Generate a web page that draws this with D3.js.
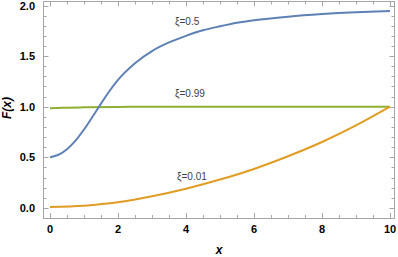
<!DOCTYPE html>
<html>
<head>
<meta charset="utf-8">
<script src="https://cdn.jsdelivr.net/npm/d3@7"></script>
<style>
  body { margin: 0; background: #fff; }
  text { font-family: "Liberation Sans", Arial, sans-serif; }
</style>
</head>
<body>
<svg id="chart" width="398" height="257"></svg>
<script>
// values
var blueX = [0, 0.25, 0.5, 0.75, 1, 1.25, 1.5, 1.75, 2, 2.5, 3, 3.5, 4, 4.5, 5, 5.5, 6, 7, 8, 9, 10]
var blueY = [0.5, 0.525, 0.58, 0.665, 0.775, 0.9, 1.03, 1.155, 1.265, 1.43, 1.55, 1.635, 1.70, 1.755, 1.795, 1.83, 1.855, 1.89, 1.915, 1.933, 1.945]

var greenX = [0, 0.5, 1, 2, 3, 4, 6, 8, 10]
var greenY = [0.985, 0.99, 0.994, 0.998, 1.0, 1.0, 1.0, 1.0, 1.0]

var orangeX = [0, 1, 2, 3, 4, 5, 6, 7, 8, 9, 10]
var orangeY = [0.01, 0.022, 0.055, 0.115, 0.19, 0.28, 0.385, 0.51, 0.651, 0.815, 1.0]

var seriesNames = ["\u03be=0.5", "\u03be=0.99", "\u03be=0.01"]
var colors = ["#5E81B5", "#8FB032", "#E19C24"]

var xTicks = [0, 2, 4, 6, 8, 10]
var yTicks = [0, 0.5, 1, 1.5, 2]

var svg = d3.select("svg#chart")

var x = d3.scaleLinear().domain([0, 10]).range([50, 390])
var y = d3.scaleLinear().domain([0, 2]).range([207.9, 5.5])

var frame = { left: 43, right: 394, top: 1, bottom: 218 }

// frame
svg.append("rect")
    .attr("x", frame.left + 0.5).attr("y", frame.top + 0.5)
    .attr("width", frame.right - frame.left).attr("height", frame.bottom - frame.top)
    .attr("fill", "none").attr("stroke", "#a6a6a6").attr("stroke-width", 1)

var tickColor = "#a6a6a6"
var ticks = svg.append("g").attr("stroke", tickColor).attr("stroke-width", 1)

// x ticks, bottom and top
d3.range(0, 10.01, 0.5).forEach(function(v) {
    let major = Math.abs(v % 2) < 1e-6
    let len = major ? 5 : 3
    let px = Math.round(x(v)) + 0.5
    ticks.append("line").attr("x1", px).attr("x2", px).attr("y1", frame.bottom).attr("y2", frame.bottom - len)
    ticks.append("line").attr("x1", px).attr("x2", px).attr("y1", frame.top + 0.5).attr("y2", frame.top + 0.5 + len)
})

// y ticks, left and right
d3.range(0, 2.001, 0.1).forEach(function(v) {
    let major = Math.abs((v * 10) % 5) < 1e-6
    let len = major ? 5 : 3
    let py = Math.round(y(v)) + 0.5
    ticks.append("line").attr("x1", frame.left + 0.5).attr("x2", frame.left + 0.5 + len).attr("y1", py).attr("y2", py)
    ticks.append("line").attr("x1", frame.right + 0.5).attr("x2", frame.right + 0.5 - len).attr("y1", py).attr("y2", py)
})

// tick labels
svg.append("g").selectAll("text").data(xTicks).enter().append("text")
    .attr("x", function(d) { return x(d) }).attr("y", 233)
    .attr("text-anchor", "middle")
    .style("font-size", "11px").style("font-weight", "bold")
    .text(function(d) { return d })

svg.append("g").selectAll("text").data(yTicks).enter().append("text")
    .attr("x", 35).attr("y", function(d) { return y(d) + 4 })
    .attr("text-anchor", "end")
    .style("font-size", "11px").style("font-weight", "bold")
    .text(function(d) { return d.toFixed(1) })

// axis labels
svg.append("text").attr("x", 219).attr("y", 254)
    .attr("text-anchor", "middle")
    .style("font-size", "12px").style("font-weight", "bold").style("font-style", "italic")
    .text("x")

svg.append("text")
    .attr("transform", "translate(11,108) rotate(-90)")
    .attr("text-anchor", "middle")
    .style("font-size", "12px").style("font-weight", "bold").style("font-style", "italic")
    .text("F(x)")

// curves
var line = d3.line()
    .x(function(d) { return x(d[0]) })
    .y(function(d) { return y(d[1]) })
    .curve(d3.curveMonotoneX)

var plot = svg.append("g")

function addCurve(xs, ys, color) {
    plot.append("path")
        .datum(d3.zip(xs, ys))
        .attr("d", line)
        .attr("fill", "none")
        .attr("stroke", color)
        .attr("stroke-width", 2)
}

addCurve(greenX, greenY, colors[1])
addCurve(orangeX, orangeY, colors[2])
addCurve(blueX, blueY, colors[0])

// curve labels
var labelPos = [[175, 25], [175, 97], [177, 180]]
seriesNames.forEach(function(name, i) {
    svg.append("text")
        .attr("x", labelPos[i][0]).attr("y", labelPos[i][1])
        .style("font-size", "10px").attr("fill", "#404040")
        .text(name)
})
</script>
</body>
</html>
